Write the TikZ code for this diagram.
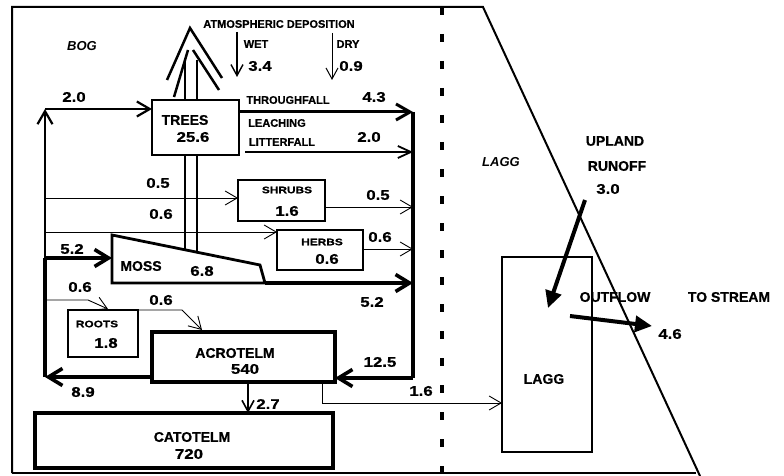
\documentclass[tikz,border=0pt]{standalone}
\usepackage{fontspec}
\setmainfont{Liberation Sans}[BoldFeatures={FakeBold=0.7}]
\newfontfamily\numfont{Liberation Sans}[FakeStretch=1.2, BoldFeatures={FakeBold=0.7}]
\newfontfamily\widefont{Liberation Sans}[FakeStretch=1.25, BoldFeatures={FakeBold=0.7}]
\usetikzlibrary{arrows.meta}
\begin{document}
\begin{tikzpicture}[x=1pt,y=-1pt,
  every node/.style={inner sep=0pt, outer sep=0pt},
  lbl/.style={font=\bfseries\fontsize{14}{14}\selectfont},
  num/.style={font=\numfont\bfseries\fontsize{14}{14}\selectfont},
  sml/.style={font=\bfseries\fontsize{11}{11}\selectfont},
  tny/.style={font=\widefont\bfseries\fontsize{9.5}{9.5}\selectfont},
  ital/.style={font=\bfseries\itshape\fontsize{13}{13}\selectfont},
  box/.style={draw, line width=2.8pt, fill=white},
  thinbox/.style={draw, line width=2pt, fill=white},
  thinflow/.style={line width=0.9pt, -{Straight Barb[length=12pt,width=14pt]}},
  medflow/.style={line width=2.2pt, -{Straight Barb[length=13pt,width=15pt]}},
  thickflow/.style={line width=3.6pt, -{Straight Barb[length=14pt,width=17pt]}},
  thickline/.style={line width=3.6pt},
  bigflow/.style={line width=4pt, -{Triangle[length=17pt,width=16pt]}},
  depo/.style={line width=1.4pt, -{Straight Barb[length=11pt,width=12pt]}}
]
\useasboundingbox (0,0) rectangle (784,476);

% frame and divider
\draw[line width=2pt] (12,473) -- (12,7) -- (483,7) -- (700,476);
\draw[line width=1.5pt] (12,473) -- (696,473);
\draw[line width=4.5pt, dash pattern=on 8pt off 19pt] (442,7) -- (442,476);

% tree symbol
\draw[line width=2.5pt] (167,80) -- (190,28) -- (222,78);
\draw[line width=2.5pt] (174,97) -- (188,50);
\draw[line width=2.5pt] (193,50) -- (219,90);
\draw[line width=2.5pt] (185,60) -- (185,250);
\draw[line width=2.5pt] (197,60) -- (197,252);

% boxes
\node[box, minimum width=87pt, minimum height=55pt] (trees) at (195.5,127.5) {};
\node[thinbox, minimum width=87pt, minimum height=41pt] (shrubs) at (281.5,200.5) {};
\node[thinbox, minimum width=86pt, minimum height=40pt] (herbs) at (320,250) {};
\node[thinbox, minimum width=70pt, minimum height=47pt] (roots) at (103,333.5) {};
\node[box, line width=3.2pt, minimum width=183pt, minimum height=50pt] (acro) at (243.5,357) {};
\node[box, line width=3.2pt, minimum width=298pt, minimum height=55pt] (cato) at (184,440.5) {};
\node[thinbox, minimum width=90pt, minimum height=195pt] (lagg) at (547,354.5) {};

% moss polygon
\coordinate (m1) at (112,235);
\coordinate (m2) at (260,265);
\coordinate (m3) at (265,283);
\coordinate (m4) at (112,283);
\coordinate (mossW) at (112,258);
\draw[line width=2.8pt, line join=miter] (m1) -- (m2) -- (m3) -- (m4) -- cycle;

% junction coordinates
\coordinate (L2) at (45,109);
\coordinate (L5) at (45,258);
\coordinate (L8) at (45,377);
\coordinate (L05) at (45,198);
\coordinate (L06) at (45,232);
\coordinate (Lr) at (45,300);
\coordinate (rk1) at (88,300);
\coordinate (rootsIn) at (108,309);
\coordinate (rk2) at (182,310);
\coordinate (acroIn) at (202,330);
\coordinate (R1) at (413,112);
\coordinate (lf0) at (245,152);
\coordinate (R2) at (413,152);
\coordinate (R3) at (413,207);
\coordinate (R4) at (413,249);
\coordinate (R5) at (413,283);
\coordinate (R12) at (413,378);
\coordinate (a27) at (248,0);
\coordinate (a16) at (322,403);
\coordinate (w0) at (237,32);
\coordinate (w1) at (237,77);
\coordinate (d0) at (332,33);
\coordinate (d1) at (332,80);
\coordinate (ru0) at (585,200);
\coordinate (ru1) at (548,308);
\coordinate (of0) at (570,316);
\coordinate (of1) at (652,326);

% flows
\draw[thickflow] (acro.west |- L8) -- (L8);
\draw[thickline] (L8) -- (L5);
\draw[medflow] (L5) -- (L2);
\draw[medflow] (L2) -- (trees.west |- L2);
\draw[thickflow] (L5) -- (mossW);
\draw[thinflow] (L05) -- (shrubs.west |- L05);
\draw[thinflow] (L06) -- (herbs.west |- L06);
\draw[thinflow] (Lr) -- (rk1) -- (rootsIn);
\draw[thinflow] (roots.north east) -- (rk2) -- (acroIn);
\draw[line width=3pt, -{Straight Barb[length=14pt,width=16pt]}] (trees.east |- R1) -- (R1);
\draw[line width=1.8pt, -{Straight Barb[length=13pt,width=12pt]}] (lf0) -- (R2);
\draw[thinflow] (shrubs.east |- R3) -- (R3);
\draw[thinflow] (herbs.east |- R4) -- (R4);
\draw[thickflow] (m3) -- (R5);
\draw[thickline] (R1) -- (R12);
\draw[thickflow] (R12) -- (acro.east |- R12);
\draw[line width=1.6pt, -{Straight Barb[length=11pt,width=12pt]}] (acro.south -| a27) -- (cato.north -| a27);
\draw[thinflow] (acro.south -| a16) -- (a16) -- (lagg.west |- a16);
\draw[depo] (w0) -- (w1);
\draw[line width=1pt, -{Straight Barb[length=11pt,width=12pt]}] (d0) -- (d1);
\draw[bigflow] (ru0) -- (ru1);
\draw[bigflow] (of0) -- (of1);

% labels
\node[ital] (bog) at (82,46) {BOG};
\node[sml] (atm) at (279,24) {ATMOSPHERIC DEPOSITION};
\node[sml] (wet) at (256,44) {WET};
\node[num] (wetv) at (260,66) {3.4};
\node[sml] (dry) at (348,44) {DRY};
\node[num] (dryv) at (351,66) {0.9};
\node[num] (v20a) at (74,97) {2.0};
\node[lbl] (treesT) at (185,120) {TREES};
\node[num] (treesV) at (193,137) {25.6};
\node[sml] (thr) at (288,100) {THROUGHFALL};
\node[num] (v43) at (374,97) {4.3};
\node[sml] (lea) at (277,123) {LEACHING};
\node[sml] (lit) at (282,142) {LITTERFALL};
\node[num] (v20b) at (369,137) {2.0};
\node[num] (v05a) at (158,183) {0.5};
\node[tny] (shrubsT) at (287,190) {SHRUBS};
\node[num] (shrubsV) at (287,211) {1.6};
\node[num] (v05b) at (378,195) {0.5};
\node[num] (v06a) at (161,214) {0.6};
\node[tny] (herbsT) at (322,242) {HERBS};
\node[num] (herbsV) at (327,259) {0.6};
\node[num] (v06b) at (380,237) {0.6};
\node[num] (v52a) at (72,249) {5.2};
\node[lbl] (mossT) at (141,266) {MOSS};
\node[num] (mossV) at (202,271) {6.8};
\node[num] (v52b) at (372,302) {5.2};
\node[num] (v06c) at (80,287) {0.6};
\node[num] (v06d) at (161,300) {0.6};
\node[tny] (rootsT) at (97,324) {ROOTS};
\node[num] (rootsV) at (106,343) {1.8};
\node[lbl] (acroT) at (235,353) {ACROTELM};
\node[num] (acroV) at (245,369) {540};
\node[num] (v125) at (380,362) {12.5};
\node[num] (v89) at (83,392) {8.9};
\node[num] (v16) at (421,391) {1.6};
\node[num] (v27) at (268,404) {2.7};
\node[lbl] (catoT) at (192,437) {CATOTELM};
\node[num] (catoV) at (189,454) {720};
\node[ital] (laggI) at (501,162) {LAGG};
\node[lbl] (upl) at (615,141) {UPLAND};
\node[lbl] (run) at (617,166) {RUNOFF};
\node[num] (v30) at (608,189) {3.0};
\node[lbl] (outf) at (615,297) {OUTFLOW};
\node[lbl] (tost) at (729,297) {TO STREAM};
\node[num] (v46) at (670,334) {4.6};
\node[lbl] (laggT) at (544,379) {LAGG};
\end{tikzpicture}
\end{document}
